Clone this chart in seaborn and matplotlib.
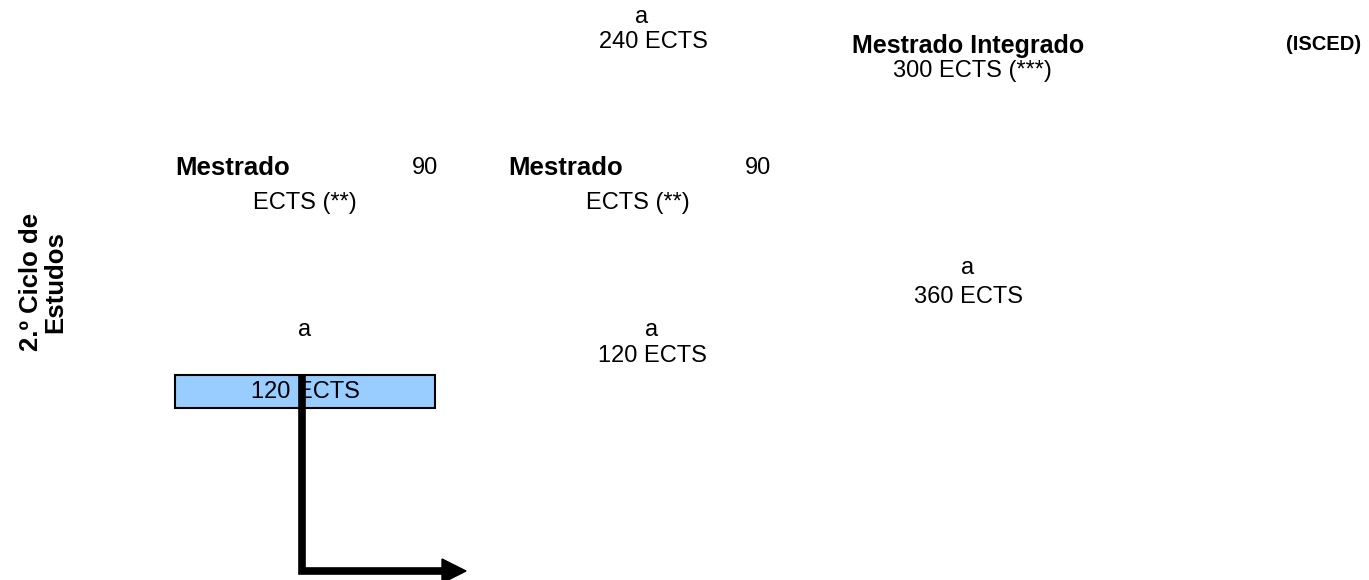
import matplotlib
matplotlib.use("Agg")
import matplotlib.pyplot as plt
import seaborn as sns

# --- Data ---
TOP_ROW = ["a", "240 ECTS"]
INTEGRADO_TITLE = "Mestrado Integrado"
INTEGRADO_CREDITS = "300 ECTS (***)"
ISCED_LABEL = "(ISCED)"
MESTRADO_TITLES = ["Mestrado", "Mestrado"]
MESTRADO_CREDITS = ["90", "90"]
MESTRADO_NOTES = ["ECTS (**)", "ECTS (**)"]
CICLO_LABEL = "2.º Ciclo de\nEstudos"
RIGHT_BLOCK = ["a", "360 ECTS"]
MID_BLOCK = ["a", "120 ECTS"]
LEFT_A = "a"
BOX_LABEL = "120 ECTS"

# --- Layout (pixel coordinates of the 1369x580 canvas) ---
W, H = 1369, 580
FONT = ["Liberation Sans", "DejaVu Sans"]
BOX_COLOR = "#99CCFF"
REG_SIZE = 17


def draw_texts(ax):
    reg = dict(family=FONT, fontsize=REG_SIZE, ha="center", va="center", color="black")
    bold = dict(family=FONT, fontsize=18.5, fontweight="bold", va="center", color="black")

    # top row
    ax.text(642, 17, TOP_ROW[0], **reg)
    ax.text(653, 42, TOP_ROW[1], **reg)
    ax.text(968, 46, INTEGRADO_TITLE, family=FONT, fontsize=18,
            fontweight="bold", ha="center", va="center", color="black")
    ax.text(972, 71, INTEGRADO_CREDITS, **reg)
    ax.text(1324, 44, ISCED_LABEL, family=FONT, fontsize=14.5,
            fontweight="bold", ha="center", va="center", color="black")

    # the two "Mestrado" blocks
    for i, x0 in enumerate([175, 508]):
        ax.text(x0, 168, MESTRADO_TITLES[i], ha="left", **bold)
        ax.text(x0 + 250, 168, MESTRADO_CREDITS[i], **reg)
        ax.text(x0 + 130, 203, MESTRADO_NOTES[i], **reg)

    # side label
    ax.text(43, 282, CICLO_LABEL, family=FONT, fontsize=18.5, fontweight="bold",
            rotation=90, ha="center", va="center", multialignment="center",
            linespacing=1.0, color="black")

    # lower blocks
    ax.text(968, 268, RIGHT_BLOCK[0], **reg)
    ax.text(968, 297, RIGHT_BLOCK[1], **reg)
    ax.text(652, 330, MID_BLOCK[0], **reg)
    ax.text(652, 356, MID_BLOCK[1], **reg)
    ax.text(305, 330, LEFT_A, **reg)


def draw_box_and_arrow(ax):
    # highlighted 120 ECTS box
    ax.barh(y=[391.5], width=[260], left=175, height=33, color=BOX_COLOR,
            edgecolor="black", linewidth=1.5, zorder=2)
    ax.text(305, 392, BOX_LABEL, family=FONT, fontsize=REG_SIZE, ha="center",
            va="center", color="black", zorder=3)

    # thick elbow arrow
    ax.plot([302, 302, 446], [376, 571, 571], color="black", linewidth=5.5,
            solid_joinstyle="miter", solid_capstyle="butt", zorder=4)
    ax.fill([442, 466, 442], [559, 571, 583], color="black", zorder=4)


def main():
    sns.set_theme(style="white")
    plt.rcParams["font.family"] = FONT

    fig = plt.figure(figsize=(W / 100, H / 100), dpi=100)
    ax = fig.add_axes([0, 0, 1, 1])
    ax.set_xlim(0, W)
    ax.set_ylim(H, 0)
    ax.axis("off")

    draw_texts(ax)
    draw_box_and_arrow(ax)

    fig.savefig("out.png", dpi=100, facecolor="white")
    plt.close(fig)


if __name__ == "__main__":
    main()
